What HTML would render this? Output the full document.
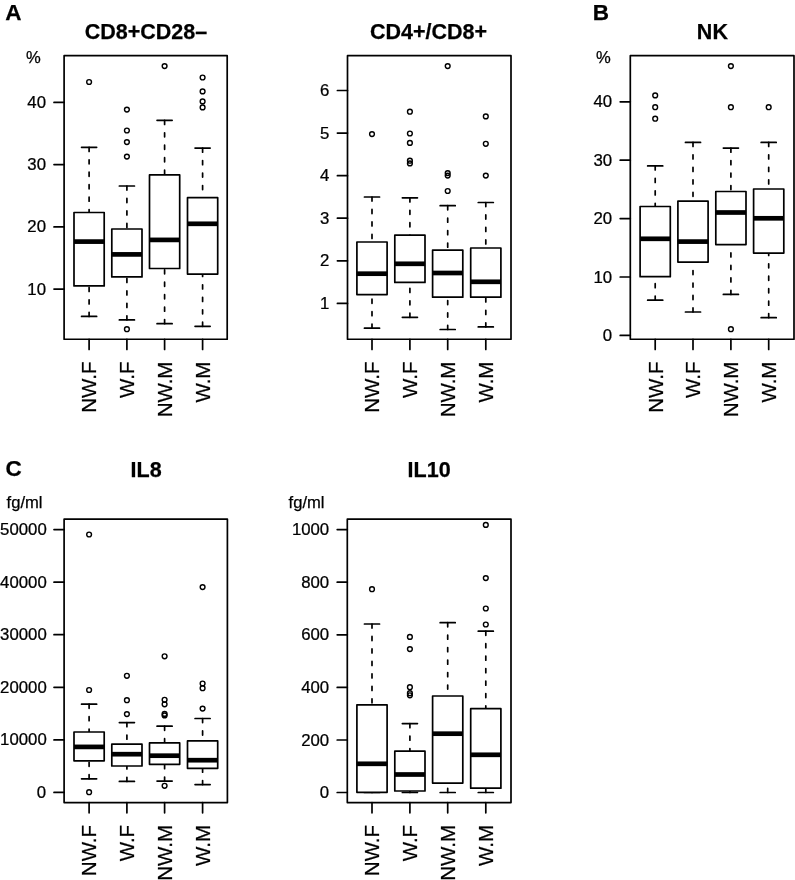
<!DOCTYPE html>
<html lang="en">
<head>
<meta charset="utf-8">
<title>Figure</title>
<style>
html,body{margin:0;padding:0;background:#fff;}
body{width:795px;height:880px;overflow:hidden;}
svg{display:block;}
text{font-family:'Liberation Sans', sans-serif;fill:#000;stroke:#000;stroke-width:0.25px;}
.tt{font-size:21.5px;font-weight:bold;}
.pl{font-size:22.5px;font-weight:bold;}
.ax{font-size:16.6px;}
.ay{font-size:15.9px;}
.xl{font-size:20.5px;}
.ln{fill:none;stroke:#000;stroke-width:1.7;stroke-linecap:round;}
.wh{fill:none;stroke:#000;stroke-width:1.7;stroke-linecap:round;stroke-dasharray:4.1 8.36;}
.bx{fill:#fff;stroke:#000;stroke-width:1.7;stroke-linejoin:round;}
.fr{fill:none;stroke:#000;stroke-width:1.7;stroke-linejoin:round;}
.md{fill:none;stroke:#000;stroke-width:4.7;stroke-linecap:butt;}
.pt{fill:none;stroke:#000;stroke-width:1.4;}
</style>
</head>
<body>
<svg width="795" height="880" viewBox="0 0 795 880">
<rect x="0" y="0" width="795" height="880" fill="#fff"/>
<g transform="translate(0 0.4)">
<g>
<path class="wh" d="M89.1 146.9V212.1M89.1 316V285.5"/>
<path class="ln" d="M81.55 146.9H96.65M81.55 316H96.65"/>
<rect class="bx" x="74" y="212.1" width="30.2" height="73.4"/>
<path class="md" d="M74 241.2H104.2"/>
<circle class="pt" cx="89.1" cy="81.6" r="2.4"/>
<path class="wh" d="M126.9 185.6V228.6M126.9 319.5V276.5"/>
<path class="ln" d="M119.35 185.6H134.45M119.35 319.5H134.45"/>
<rect class="bx" x="111.8" y="228.6" width="30.2" height="47.9"/>
<path class="md" d="M111.8 254H142"/>
<circle class="pt" cx="126.9" cy="109.2" r="2.4"/>
<circle class="pt" cx="126.9" cy="130.1" r="2.4"/>
<circle class="pt" cx="126.9" cy="141.7" r="2.4"/>
<circle class="pt" cx="126.9" cy="156.2" r="2.4"/>
<circle class="pt" cx="126.9" cy="328.8" r="2.4"/>
<path class="wh" d="M164.6 119.9V174.5M164.6 323.3V268.1"/>
<path class="ln" d="M157.05 119.9H172.15M157.05 323.3H172.15"/>
<rect class="bx" x="149.5" y="174.5" width="30.2" height="93.6"/>
<path class="md" d="M149.5 239.5H179.7"/>
<circle class="pt" cx="164.6" cy="65.7" r="2.4"/>
<path class="wh" d="M202.6 147.7V197.3M202.6 325.9V273.7"/>
<path class="ln" d="M195.05 147.7H210.15M195.05 325.9H210.15"/>
<rect class="bx" x="187.5" y="197.3" width="30.2" height="76.4"/>
<path class="md" d="M187.5 223.4H217.7"/>
<circle class="pt" cx="202.6" cy="77.1" r="2.4"/>
<circle class="pt" cx="202.6" cy="91" r="2.4"/>
<circle class="pt" cx="202.6" cy="101" r="2.4"/>
<circle class="pt" cx="202.6" cy="107" r="2.4"/>
<rect class="fr" x="64.1" y="55.3" width="163.1" height="283.55"/>
<path class="ln" d="M64.1 102h-10.1M64.1 164.2h-10.1M64.1 226.5h-10.1M64.1 288.7h-10.1"/>
<text class="ay" transform="translate(46 107.55) scale(1.055 1)" text-anchor="end">40</text>
<text class="ay" transform="translate(46 169.75) scale(1.055 1)" text-anchor="end">30</text>
<text class="ay" transform="translate(46 232.05) scale(1.055 1)" text-anchor="end">20</text>
<text class="ay" transform="translate(46 294.25) scale(1.055 1)" text-anchor="end">10</text>
<path class="ln" d="M89.1 338.85v10.2M126.9 338.85v10.2M164.6 338.85v10.2M202.6 338.85v10.2"/>
<text class="xl" transform="translate(96.4 361.15) rotate(-90)" text-anchor="end">NW.F</text>
<text class="xl" transform="translate(134.2 361.15) rotate(-90)" text-anchor="end">W.F</text>
<text class="xl" transform="translate(171.9 361.15) rotate(-90)" text-anchor="end">NW.M</text>
<text class="xl" transform="translate(209.9 361.15) rotate(-90)" text-anchor="end">W.M</text>
<text class="tt" x="146" y="38.9" text-anchor="middle">CD8+CD28–</text>
</g>
<g>
<path class="wh" d="M372 196.6V241.6M372 327.8V294.2"/>
<path class="ln" d="M364.45 196.6H379.55M364.45 327.8H379.55"/>
<rect class="bx" x="356.9" y="241.6" width="30.2" height="52.6"/>
<path class="md" d="M356.9 273.3H387.1"/>
<circle class="pt" cx="372" cy="133.7" r="2.4"/>
<path class="wh" d="M409.9 197.4V234.8M409.9 316.9V282"/>
<path class="ln" d="M402.35 197.4H417.45M402.35 316.9H417.45"/>
<rect class="bx" x="394.8" y="234.8" width="30.2" height="47.2"/>
<path class="md" d="M394.8 263.4H425"/>
<circle class="pt" cx="409.9" cy="111.3" r="2.4"/>
<circle class="pt" cx="409.9" cy="133.1" r="2.4"/>
<circle class="pt" cx="409.9" cy="142.5" r="2.4"/>
<circle class="pt" cx="409.9" cy="160.3" r="2.4"/>
<circle class="pt" cx="409.9" cy="163" r="2.4"/>
<path class="wh" d="M447.7 205.3V249.7M447.7 329.1V296.8"/>
<path class="ln" d="M440.15 205.3H455.25M440.15 329.1H455.25"/>
<rect class="bx" x="432.6" y="249.7" width="30.2" height="47.1"/>
<path class="md" d="M432.6 272.6H462.8"/>
<circle class="pt" cx="447.7" cy="65.7" r="2.4"/>
<circle class="pt" cx="447.7" cy="172.7" r="2.4"/>
<circle class="pt" cx="447.7" cy="175.2" r="2.4"/>
<circle class="pt" cx="447.7" cy="190.6" r="2.4"/>
<path class="wh" d="M485.8 202.1V247.6M485.8 326.5V296.8"/>
<path class="ln" d="M478.25 202.1H493.35M478.25 326.5H493.35"/>
<rect class="bx" x="470.7" y="247.6" width="30.2" height="49.2"/>
<path class="md" d="M470.7 281.4H500.9"/>
<circle class="pt" cx="485.8" cy="116" r="2.4"/>
<circle class="pt" cx="485.8" cy="143.4" r="2.4"/>
<circle class="pt" cx="485.8" cy="175.2" r="2.4"/>
<rect class="fr" x="347.5" y="55.3" width="163.5" height="283.55"/>
<path class="ln" d="M347.5 90.1h-10.1M347.5 132.7h-10.1M347.5 175.3h-10.1M347.5 217.8h-10.1M347.5 260.4h-10.1M347.5 303h-10.1"/>
<text class="ay" transform="translate(329.4 95.65) scale(1.055 1)" text-anchor="end">6</text>
<text class="ay" transform="translate(329.4 138.25) scale(1.055 1)" text-anchor="end">5</text>
<text class="ay" transform="translate(329.4 180.85) scale(1.055 1)" text-anchor="end">4</text>
<text class="ay" transform="translate(329.4 223.35) scale(1.055 1)" text-anchor="end">3</text>
<text class="ay" transform="translate(329.4 265.95) scale(1.055 1)" text-anchor="end">2</text>
<text class="ay" transform="translate(329.4 308.55) scale(1.055 1)" text-anchor="end">1</text>
<path class="ln" d="M372 338.85v10.2M409.9 338.85v10.2M447.7 338.85v10.2M485.8 338.85v10.2"/>
<text class="xl" transform="translate(379.3 361.15) rotate(-90)" text-anchor="end">NW.F</text>
<text class="xl" transform="translate(417.2 361.15) rotate(-90)" text-anchor="end">W.F</text>
<text class="xl" transform="translate(455 361.15) rotate(-90)" text-anchor="end">NW.M</text>
<text class="xl" transform="translate(493.1 361.15) rotate(-90)" text-anchor="end">W.M</text>
<text class="tt" x="428.5" y="38.9" text-anchor="middle">CD4+/CD8+</text>
</g>
<g>
<path class="wh" d="M655.2 165.5V206.1M655.2 299.8V276.3"/>
<path class="ln" d="M647.65 165.5H662.75M647.65 299.8H662.75"/>
<rect class="bx" x="640.1" y="206.1" width="30.2" height="70.2"/>
<path class="md" d="M640.1 238.4H670.3"/>
<circle class="pt" cx="655.2" cy="95" r="2.4"/>
<circle class="pt" cx="655.2" cy="106.8" r="2.4"/>
<circle class="pt" cx="655.2" cy="118.3" r="2.4"/>
<path class="wh" d="M693 142V200.8M693 311.6V261.7"/>
<path class="ln" d="M685.45 142H700.55M685.45 311.6H700.55"/>
<rect class="bx" x="677.9" y="200.8" width="30.2" height="60.9"/>
<path class="md" d="M677.9 241.2H708.1"/>
<path class="wh" d="M730.9 147.7V191.1M730.9 294V244.2"/>
<path class="ln" d="M723.35 147.7H738.45M723.35 294H738.45"/>
<rect class="bx" x="715.8" y="191.1" width="30.2" height="53.1"/>
<path class="md" d="M715.8 212.1H746"/>
<circle class="pt" cx="730.9" cy="65.7" r="2.4"/>
<circle class="pt" cx="730.9" cy="106.8" r="2.4"/>
<circle class="pt" cx="730.9" cy="328.8" r="2.4"/>
<path class="wh" d="M768.7 142V188.6M768.7 317.3V252.7"/>
<path class="ln" d="M761.15 142H776.25M761.15 317.3H776.25"/>
<rect class="bx" x="753.6" y="188.6" width="30.2" height="64.1"/>
<path class="md" d="M753.6 217.9H783.8"/>
<circle class="pt" cx="768.7" cy="106.8" r="2.4"/>
<rect class="fr" x="630.3" y="55.3" width="163.7" height="283.55"/>
<path class="ln" d="M630.3 101.4h-10.1M630.3 159.8h-10.1M630.3 218.2h-10.1M630.3 276.6h-10.1M630.3 335h-10.1"/>
<text class="ay" transform="translate(612.2 106.95) scale(1.055 1)" text-anchor="end">40</text>
<text class="ay" transform="translate(612.2 165.35) scale(1.055 1)" text-anchor="end">30</text>
<text class="ay" transform="translate(612.2 223.75) scale(1.055 1)" text-anchor="end">20</text>
<text class="ay" transform="translate(612.2 282.15) scale(1.055 1)" text-anchor="end">10</text>
<text class="ay" transform="translate(612.2 340.55) scale(1.055 1)" text-anchor="end">0</text>
<path class="ln" d="M655.2 338.85v10.2M693 338.85v10.2M730.9 338.85v10.2M768.7 338.85v10.2"/>
<text class="xl" transform="translate(662.5 361.15) rotate(-90)" text-anchor="end">NW.F</text>
<text class="xl" transform="translate(700.3 361.15) rotate(-90)" text-anchor="end">W.F</text>
<text class="xl" transform="translate(738.2 361.15) rotate(-90)" text-anchor="end">NW.M</text>
<text class="xl" transform="translate(776 361.15) rotate(-90)" text-anchor="end">W.M</text>
<text class="tt" x="712.4" y="38.9" text-anchor="middle">NK</text>
</g>
<g>
<path class="wh" d="M89.1 703.8V731.6M89.1 778.4V760.4"/>
<path class="ln" d="M81.55 703.8H96.65M81.55 778.4H96.65"/>
<rect class="bx" x="74" y="731.6" width="30.2" height="28.8"/>
<path class="md" d="M74 746.5H104.2"/>
<circle class="pt" cx="89.1" cy="534.1" r="2.4"/>
<circle class="pt" cx="89.1" cy="689.6" r="2.4"/>
<circle class="pt" cx="89.1" cy="791.8" r="2.4"/>
<path class="wh" d="M126.9 722.2V743.8M126.9 781V765.6"/>
<path class="ln" d="M119.35 722.2H134.45M119.35 781H134.45"/>
<rect class="bx" x="111.8" y="743.8" width="30.2" height="21.8"/>
<path class="md" d="M111.8 753.8H142"/>
<circle class="pt" cx="126.9" cy="675.4" r="2.4"/>
<circle class="pt" cx="126.9" cy="699.8" r="2.4"/>
<circle class="pt" cx="126.9" cy="713.7" r="2.4"/>
<path class="wh" d="M164.6 725.8V742.5M164.6 780.7V763.9"/>
<path class="ln" d="M157.05 725.8H172.15M157.05 780.7H172.15"/>
<rect class="bx" x="149.5" y="742.5" width="30.2" height="21.4"/>
<path class="md" d="M149.5 755.3H179.7"/>
<circle class="pt" cx="164.6" cy="655.9" r="2.4"/>
<circle class="pt" cx="164.6" cy="699.4" r="2.4"/>
<circle class="pt" cx="164.6" cy="703.9" r="2.4"/>
<circle class="pt" cx="164.6" cy="713.5" r="2.4"/>
<circle class="pt" cx="164.6" cy="715" r="2.4"/>
<circle class="pt" cx="164.6" cy="785.4" r="2.4"/>
<path class="wh" d="M202.6 718.1V740.5M202.6 784.2V767.9"/>
<path class="ln" d="M195.05 718.1H210.15M195.05 784.2H210.15"/>
<rect class="bx" x="187.5" y="740.5" width="30.2" height="27.4"/>
<path class="md" d="M187.5 759.8H217.7"/>
<circle class="pt" cx="202.6" cy="586.7" r="2.4"/>
<circle class="pt" cx="202.6" cy="683.1" r="2.4"/>
<circle class="pt" cx="202.6" cy="687.8" r="2.4"/>
<circle class="pt" cx="202.6" cy="708.2" r="2.4"/>
<rect class="fr" x="64.1" y="518.8" width="163.3" height="283.4"/>
<path class="ln" d="M64.1 529.2h-10.1M64.1 581.8h-10.1M64.1 634.3h-10.1M64.1 686.9h-10.1M64.1 739.5h-10.1M64.1 792h-10.1"/>
<text class="ay" transform="translate(46.7 534.75) scale(1.055 1)" text-anchor="end">50000</text>
<text class="ay" transform="translate(46.7 587.35) scale(1.055 1)" text-anchor="end">40000</text>
<text class="ay" transform="translate(46.7 639.85) scale(1.055 1)" text-anchor="end">30000</text>
<text class="ay" transform="translate(46.7 692.45) scale(1.055 1)" text-anchor="end">20000</text>
<text class="ay" transform="translate(46.7 745.05) scale(1.055 1)" text-anchor="end">10000</text>
<text class="ay" transform="translate(46 797.55) scale(1.055 1)" text-anchor="end">0</text>
<path class="ln" d="M89.1 802.2v10.2M126.9 802.2v10.2M164.6 802.2v10.2M202.6 802.2v10.2"/>
<text class="xl" transform="translate(96.4 824.5) rotate(-90)" text-anchor="end">NW.F</text>
<text class="xl" transform="translate(134.2 824.5) rotate(-90)" text-anchor="end">W.F</text>
<text class="xl" transform="translate(171.9 824.5) rotate(-90)" text-anchor="end">NW.M</text>
<text class="xl" transform="translate(209.9 824.5) rotate(-90)" text-anchor="end">W.M</text>
<text class="tt" x="146.1" y="476.6" text-anchor="middle">IL8</text>
</g>
<g>
<path class="wh" d="M372 623.6V704.4M372 792.1V791.9"/>
<path class="ln" d="M364.45 623.6H379.55M364.45 792.1H379.55"/>
<rect class="bx" x="356.9" y="704.4" width="30.2" height="87.5"/>
<path class="md" d="M356.9 763.4H387.1"/>
<circle class="pt" cx="372" cy="588.8" r="2.4"/>
<path class="wh" d="M409.9 723.2V750.8M409.9 792.1V790.6"/>
<path class="ln" d="M402.35 723.2H417.45M402.35 792.1H417.45"/>
<rect class="bx" x="394.8" y="750.8" width="30.2" height="39.8"/>
<path class="md" d="M394.8 774.1H425"/>
<circle class="pt" cx="409.9" cy="636.5" r="2.4"/>
<circle class="pt" cx="409.9" cy="648.7" r="2.4"/>
<circle class="pt" cx="409.9" cy="686.8" r="2.4"/>
<circle class="pt" cx="409.9" cy="692.8" r="2.4"/>
<circle class="pt" cx="409.9" cy="694.9" r="2.4"/>
<path class="wh" d="M447.7 622.3V695.6M447.7 792.1V782.7"/>
<path class="ln" d="M440.15 622.3H455.25M440.15 792.1H455.25"/>
<rect class="bx" x="432.6" y="695.6" width="30.2" height="87.1"/>
<path class="md" d="M432.6 733.3H462.8"/>
<path class="wh" d="M485.8 630.8V708.3M485.8 792.1V787.8"/>
<path class="ln" d="M478.25 630.8H493.35M478.25 792.1H493.35"/>
<rect class="bx" x="470.7" y="708.3" width="30.2" height="79.5"/>
<path class="md" d="M470.7 754.4H500.9"/>
<circle class="pt" cx="485.8" cy="524.5" r="2.4"/>
<circle class="pt" cx="485.8" cy="577.7" r="2.4"/>
<circle class="pt" cx="485.8" cy="608.1" r="2.4"/>
<circle class="pt" cx="485.8" cy="624.1" r="2.4"/>
<rect class="fr" x="347.3" y="518.8" width="163.7" height="283.4"/>
<path class="ln" d="M347.3 529.2h-10.1M347.3 581.8h-10.1M347.3 634.4h-10.1M347.3 687h-10.1M347.3 739.6h-10.1M347.3 792.1h-10.1"/>
<text class="ay" transform="translate(329.2 534.75) scale(1.055 1)" text-anchor="end">1000</text>
<text class="ay" transform="translate(329.2 587.35) scale(1.055 1)" text-anchor="end">800</text>
<text class="ay" transform="translate(329.2 639.95) scale(1.055 1)" text-anchor="end">600</text>
<text class="ay" transform="translate(329.2 692.55) scale(1.055 1)" text-anchor="end">400</text>
<text class="ay" transform="translate(329.2 745.15) scale(1.055 1)" text-anchor="end">200</text>
<text class="ay" transform="translate(329.2 797.65) scale(1.055 1)" text-anchor="end">0</text>
<path class="ln" d="M372 802.2v10.2M409.9 802.2v10.2M447.7 802.2v10.2M485.8 802.2v10.2"/>
<text class="xl" transform="translate(379.3 824.5) rotate(-90)" text-anchor="end">NW.F</text>
<text class="xl" transform="translate(417.2 824.5) rotate(-90)" text-anchor="end">W.F</text>
<text class="xl" transform="translate(455 824.5) rotate(-90)" text-anchor="end">NW.M</text>
<text class="xl" transform="translate(493.1 824.5) rotate(-90)" text-anchor="end">W.M</text>
<text class="tt" x="429.1" y="476.6" text-anchor="middle">IL10</text>
</g>
<text class="pl" x="5.2" y="19.6">A</text>
<text class="pl" x="592.7" y="19.9">B</text>
<text class="pl" x="5.4" y="475.6">C</text>
<text class="ax" x="25.9" y="62.5">%</text>
<text class="ax" x="596.0" y="62.4">%</text>
<text class="ax" x="6.6" y="507.6">fg/ml</text>
<text class="ax" x="288.6" y="507.6">fg/ml</text>
</g>
</svg>
</body>
</html>
